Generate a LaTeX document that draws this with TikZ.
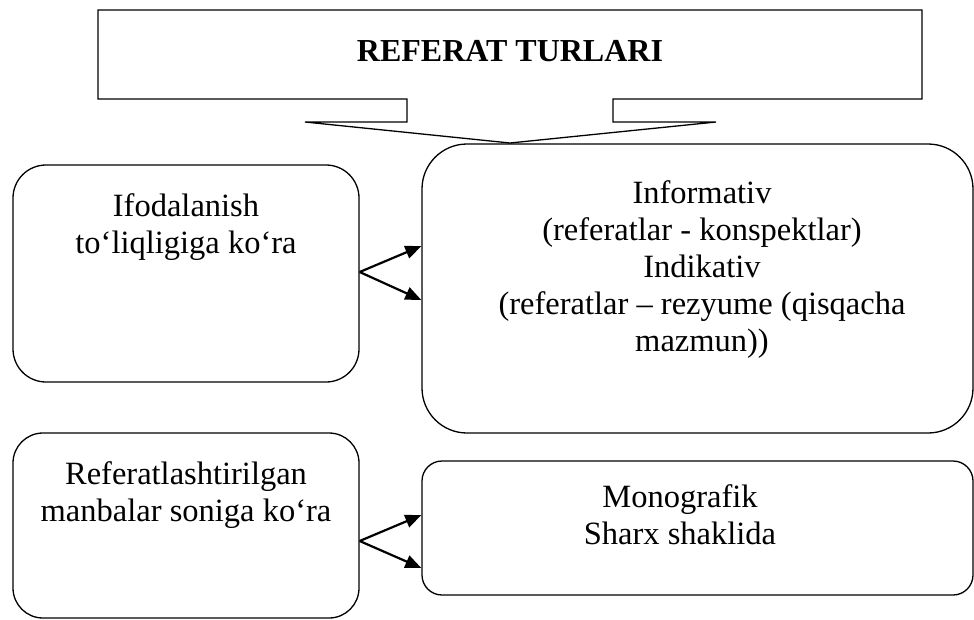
\documentclass[tikz,border=0pt]{standalone}
\usepackage{fontspec}
\setmainfont{Liberation Serif}
\usetikzlibrary{arrows.meta}
\begin{document}
\begin{tikzpicture}[x=1pt,y=-1pt,line width=1.3pt,
  box/.style={draw,rounded corners=#1,inner sep=0pt},
  lbl/.style={anchor=base,inner sep=0pt,font=\fontsize{32.5}{37}\selectfont},
  ttl/.style={anchor=base,inner sep=0pt,font=\fontsize{32}{37}\selectfont\bfseries},
  arr/.style={-{Triangle[length=16pt,width=13pt]},line width=2.2pt}]
\useasboundingbox (0,0) rectangle (974,619);
% callout
\draw (98,10) -- (922,10) -- (922,99) -- (613,99) -- (613,122) -- (716,122)
  -- (510,143) -- (305,122) -- (407,122) -- (407,99) -- (98,99) -- cycle;
\node[ttl] (T) at (510,61) {REFERAT TURLARI};
% boxes
\node[box=33pt,minimum width=346pt,minimum height=217pt] (A) at (186,273.5) {};
\node[box=45pt,minimum width=551pt,minimum height=289pt] (B) at (697.5,288.5) {};
\node[box=30pt,minimum width=346pt,minimum height=185pt] (C) at (186,525.5) {};
\node[box=20pt,minimum width=551pt,minimum height=134pt] (D) at (697.5,528) {};
% texts
\node[lbl] (a1) at (186,216) {Ifodalanish};
\node[lbl] (a2) at (186,253) {to‘liqligiga ko‘ra};
\node[lbl] (b1) at (702,203) {Informativ};
\node[lbl] (b2) at (702,240) {(referatlar - konspektlar)};
\node[lbl] (b3) at (702,277) {Indikativ};
\node[lbl] (b4) at (702,314) {(referatlar – rezyume (qisqacha};
\node[lbl] (b5) at (702,351) {mazmun))};
\node[lbl] (c1) at (186,484) {Referatlashtirilgan};
\node[lbl] (c2) at (186,521) {manbalar soniga ko‘ra};
\node[lbl] (d1) at (680,507) {Monografik};
\node[lbl] (d2) at (680,544) {Sharx shaklida};
% arrows
\draw[arr] (A.east |- 0,272) -- (B.west |- 0,246);
\draw[arr] (A.east |- 0,272) -- (B.west |- 0,300);
\draw[arr] (C.east |- 0,541) -- (D.west |- 0,515);
\draw[arr] (C.east |- 0,541) -- (D.west |- 0,568);
\end{tikzpicture}
\end{document}
